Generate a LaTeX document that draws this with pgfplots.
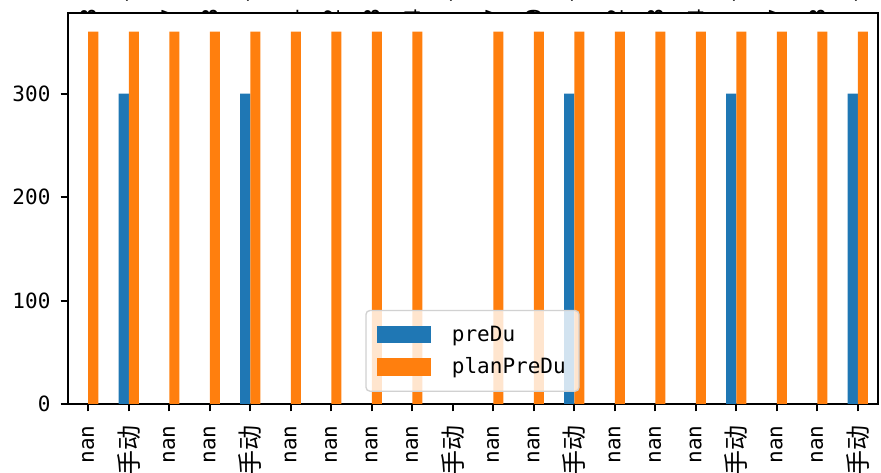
\documentclass[border=0pt]{standalone}
\usepackage{fontspec}
\setmainfont{DejaVu Sans Mono}
\newfontfamily\cjk{Noto Sans CJK SC}
\usepackage{pgfplots}
\pgfplotsset{compat=1.18}
\usetikzlibrary{calc}
\definecolor{c0}{HTML}{1F77B4}
\definecolor{c1}{HTML}{FF7F0E}
\newcommand{\sd}{{\cjk\fontsize{18.75}{20}\selectfont 手动}}
\pgfplotsset{barlegend/.style={legend image code/.code={\path[##1,draw=none,sharp corners,fill opacity=1] (0pt,-6.5pt) rectangle (40.5pt,6.5pt);}}}

\begin{document}
\begin{tikzpicture}
\begin{axis}[
  name=ax,
  scale only axis,
  width=607.5pt, height=293.25pt,
  xmin=-0.5, xmax=19.5, ymin=0, ymax=378,
  axis line style={line width=1.5pt},
  xtick={0,...,19},
  xticklabels={nan,\sd,nan,nan,\sd,nan,nan,nan,nan,\sd,nan,nan,\sd,nan,nan,nan,\sd,nan,nan,\sd},
  ytick={0,100,200,300},
  tick align=outside,
  tick pos=left,
  major tick length=5.5pt,
  tick style={line width=1.5pt, black},
  tick label style={font=\fontsize{15.75}{18}\selectfont, inner sep=0pt},
  xticklabel style={yshift=-10.5pt, rotate=90, anchor=east},
  yticklabel style={xshift=-7.5pt},
  /pgf/number format/assume math mode=true,
  legend style={at={(0.367,0.031)}, anchor=south west, draw=black!18, line width=1pt,
    rounded corners=3pt, fill=white, fill opacity=0.8, text opacity=1,
    font=\fontsize{15.75}{18}\selectfont, inner xsep=8pt, inner ysep=9.5pt, row sep=7pt,
    /tikz/every odd column/.append style={column sep=14pt}},
  legend cell align=left,
]
% preDu (nan elsewhere)
\addplot[ybar, bar width=0.25, bar shift=-0.125, fill=c0, draw=none, barlegend]
  coordinates {(1,300) (4,300) (12,300) (16,300) (19,300)};
% planPreDu (nan at 9)
\addplot[ybar, bar width=0.25, bar shift=0.125, fill=c1, draw=none, barlegend]
  coordinates {(0,360) (1,360) (2,360) (3,360) (4,360) (5,360) (6,360) (7,360) (8,360)
    (10,360) (11,360) (12,360) (13,360) (14,360) (15,360) (16,360) (17,360) (18,360) (19,360)};
\legend{preDu,planPreDu}
\end{axis}

% cut-off labels above the frame
\begin{scope}
\clip ([yshift=0.75pt]ax.north west) rectangle ([yshift=12pt]ax.north east);
\foreach \i/\c in {0/8,2/7,3/8,5/1,6/2,7/8,8/4,10/7,11/9,13/2,14/8,15/4,17/7,18/8}
  \node[rotate=90, anchor=east, inner sep=0pt, font=\fontsize{15.75}{18}\selectfont]
    at ($(ax.north west)!{(\i+0.5)/20}!(ax.north east)+(0,3.5pt)$) {\c};
\foreach \i in {1,4,9,12,16,19}
  \node[rotate=90, anchor=west, inner sep=0pt, font=\cjk\fontsize{18.75}{20}\selectfont]
    at ($(ax.north west)!{(\i+0.5)/20}!(ax.north east)+(-3pt,7.5pt)$) {手动};
\end{scope}

\pgfresetboundingbox
\path[use as bounding box] ([xshift=-51pt,yshift=-51.75pt]ax.south west)
  rectangle ([xshift=2.25pt,yshift=9.75pt]ax.north east);
\end{tikzpicture}
\end{document}
